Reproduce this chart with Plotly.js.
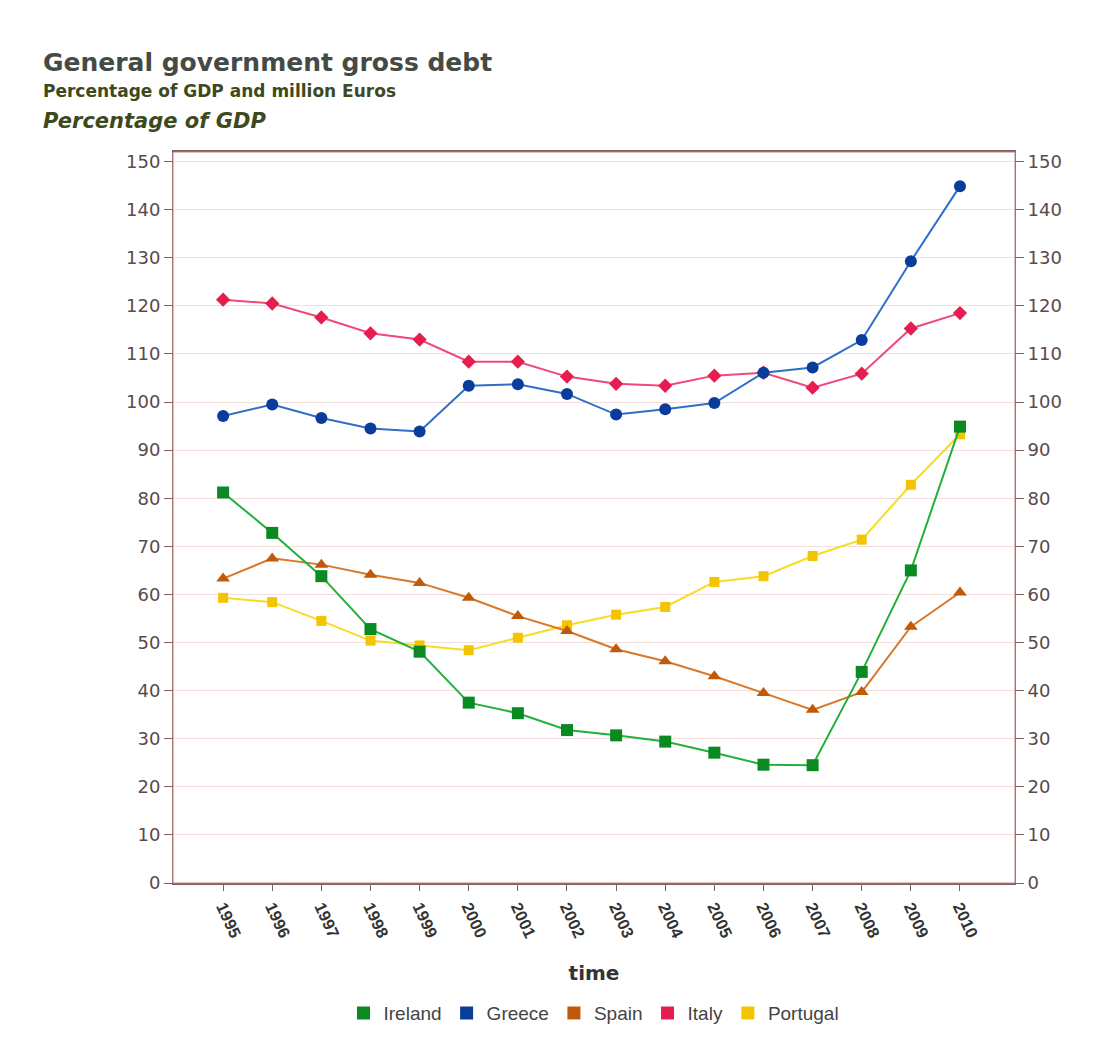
<!DOCTYPE html>
<html>
<head>
<meta charset="utf-8">
<script src="https://cdn.plot.ly/plotly-3.0.1.min.js"></script>
<style>html,body{margin:0;padding:0;background:#fff;}#chart{width:1105px;height:1057px;}</style>
</head>
<body>
<div id="chart"></div>
<script>
const years = [1995,1996,1997,1998,1999,2000,2001,2002,2003,2004,2005,2006,2007,2008,2009,2010];
const ireland  = [81.2,72.8,63.8,52.8,48.1,37.5,35.3,31.8,30.7,29.4,27.1,24.6,24.5,43.9,65.0,94.9];
const greece   = [97.1,99.5,96.7,94.5,93.9,103.4,103.7,101.7,97.4,98.5,99.8,106.1,107.2,112.9,129.3,144.9];
const spain    = [63.3,67.5,66.2,64.1,62.4,59.3,55.5,52.4,48.6,46.1,43.0,39.5,36.0,39.7,53.3,60.4];
const italy    = [121.3,120.5,117.6,114.3,113.0,108.4,108.4,105.3,103.8,103.4,105.5,106.1,103.0,105.9,115.3,118.5];
const portugal = [59.3,58.4,54.5,50.4,49.4,48.4,51.0,53.6,55.8,57.4,62.6,63.8,68.0,71.4,82.8,93.3];
const yTicks = [0,10,20,30,40,50,60,70,80,90,100,110,120,130,140,150];
const seriesNames = ['Ireland','Greece','Spain','Italy','Portugal'];

const series = [
  {name:'Ireland', y:ireland, line:'#22b03a', mark:'#0c8a22', sym:'square', size:12},
  {name:'Greece', y:greece, line:'#2f6fc8', mark:'#0a3c9c', sym:'circle', size:12},
  {name:'Spain', y:spain, line:'#d8782a', mark:'#c05a0a', sym:'triangle-up', size:12},
  {name:'Italy', y:italy, line:'#f0487a', mark:'#e61e50', sym:'diamond', size:11},
  {name:'Portugal', y:portugal, line:'#f8dc20', mark:'#f5c400', sym:'square', size:10}
];

const traces = [];
[4,2,0,3,1].forEach(i => {
  const s = series[i];
  traces.push({
    x: years, y: s.y, type:'scatter', mode:'lines+markers', name:s.name,
    showlegend:false, yaxis:'y',
    line:{color:s.line, width:2},
    marker:{color:s.mark, symbol:s.sym, size:s.size}
  });
});
series.forEach(s => {
  traces.push({
    x:[null], y:[null], type:'scatter', mode:'markers', name:s.name,
    marker:{color:s.mark, symbol:'square', size:13}, showlegend:true
  });
});
traces.push({x:[years[0]], y:[yTicks[0]], yaxis:'y2', mode:'markers', marker:{opacity:0}, showlegend:false, hoverinfo:'skip'});

const wide = 'DejaVu Sans, Verdana, sans-serif';
const axisFont = {family:wide, size:18, color:'#5a4a4a'};

const layout = {
  width:1105, height:1057,
  paper_bgcolor:'#ffffff', plot_bgcolor:'#ffffff',
  margin:{l:173, r:90, t:152, b:174},
  font:{family:'Liberation Sans, Arial, sans-serif'},
  xaxis:{
    range:[1993.98, 2011.12], tickmode:'array', tickvals:years, ticktext:years.map(String),
    tickangle:65, tickfont:{family:'Liberation Sans, Arial, sans-serif', size:16.5, color:'#333', weight:'bold'},
    showgrid:false, zeroline:false, showline:true, linecolor:'#7a6060', linewidth:2,
    ticks:'outside', ticklen:6, tickcolor:'#7a6060', mirror:true,
    title:{text:'<b>time</b>', font:{family:wide, size:20, color:'#333'}, standoff:26}
  },
  yaxis:{
    range:[0,152], tickmode:'array', tickvals:yTicks, tickfont:axisFont,
    showgrid:true, gridcolor:'#f3dede', gridwidth:1, zeroline:false,
    showline:true, linecolor:'#8a6a6a', linewidth:1, ticks:'outside', ticklen:8, tickcolor:'#7a6060'
  },
  yaxis2:{
    range:[0,152], tickmode:'array', tickvals:yTicks, tickfont:axisFont, overlaying:'y', side:'right',
    showgrid:false, zeroline:false, showline:true, linecolor:'#8a6a6a', linewidth:1,
    ticks:'outside', ticklen:8, tickcolor:'#7a6060'
  },
  legend:{orientation:'h', x:0.5, xanchor:'center', y:-0.152, yanchor:'top',
    font:{size:19, color:'#444'}, itemwidth:30, tracegroupgap:0},
  shapes:[
    {type:'rect', xref:'paper', yref:'paper', x0:0, x1:1, y0:0, y1:1, line:{color:'#c08080', width:1}},
  ],
  annotations:[
    {text:'<b>General government gross debt</b>', xref:'paper', yref:'paper', x:-0.157, y:1.123, xanchor:'left', yanchor:'middle', showarrow:false, font:{family:wide, size:25, color:'#444a44'}},
    {text:'<b>Percentage of GDP and million Euros</b>', xref:'paper', yref:'paper', x:-0.157, y:1.083, xanchor:'left', yanchor:'middle', showarrow:false, font:{family:wide, size:17, color:'#3e4a1e'}},
    {text:'<b><i>Percentage of GDP</i></b>', xref:'paper', yref:'paper', x:-0.157, y:1.042, xanchor:'left', yanchor:'middle', showarrow:false, font:{family:wide, size:21, color:'#3e4a1e'}}
  ]
};

Plotly.newPlot('chart', traces, layout, {displayModeBar:false, staticPlot:true});
</script>
</body>
</html>
